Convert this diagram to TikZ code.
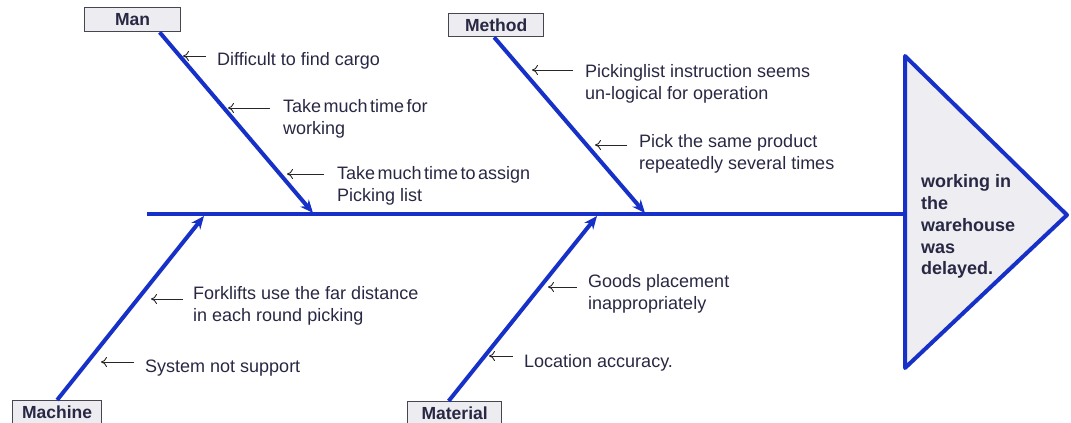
\documentclass[tikz,border=0pt]{standalone}
\usepackage{fontspec}
\setmainfont{Liberation Sans}
\usetikzlibrary{arrows.meta}
\definecolor{fbblue}{RGB}{22,48,200}
\definecolor{txt}{RGB}{40,40,68}
\definecolor{boxfill}{RGB}{236,236,241}
\definecolor{boxline}{RGB}{70,70,80}
\definecolor{trifill}{RGB}{238,238,242}
\tikzset{
  catbox/.style={draw=boxline, line width=1.3pt, fill=boxfill, text=txt, font=\fontsize{17.5}{20}\selectfont\bfseries, inner sep=0pt, anchor=north west},
  bone/.style={draw=fbblue, line width=4pt, -{Stealth[length=13pt,width=11pt]}},
  spine/.style={draw=fbblue, line width=4.5pt},
  cause/.style={text=txt, font=\fontsize{18}{22}\selectfont, align=left, anchor=north west, inner sep=0pt, execute at begin node={\strut}},
  tight/.style={execute at begin node={\strut\spaceskip=2.5pt plus 1pt}},
  ptr/.style={draw=black!85, line width=0.9pt, -{To[length=6pt,width=10pt]}},
}
\begin{document}
\begin{tikzpicture}[x=1pt,y=-1pt]
\useasboundingbox (0,0) rectangle (1071,423);
% boxes
\node[catbox, minimum width=96pt, minimum height=24pt] (man) at (84,7) {Man};
\node[catbox, minimum width=95pt, minimum height=23pt] (method) at (448,13) {Method};
\node[catbox, minimum width=89pt, minimum height=23pt] (machine) at (12,400) {Machine};
\node[catbox, minimum width=94pt, minimum height=23pt] (material) at (407,401) {Material};
% spine
\coordinate (spL) at (147,214);
\coordinate (spR) at (905,214);
\draw[spine] (spL) -- (spR);
% head triangle
\draw[draw=fbblue, line width=4pt, fill=trifill, line join=round] (905,56) -- (1067,215) -- (905,368) -- cycle;
\node[text=txt, font=\fontsize{18}{21.75}\selectfont\bfseries, align=left, anchor=north west, inner sep=0pt, execute at begin node={\strut}] (effect) at (921,174.6) {working in\\the\\warehouse\\was\\delayed.};
% branch end points
\coordinate (manE) at (313,213);
\coordinate (methodE) at (645,213);
\coordinate (machineE) at (204,216);
\coordinate (materialE) at (597,216);
\draw[bone] (man.south) ++(27,0) coordinate (manS) (manS) -- (manE);
\draw[bone] (method.south) ++(-2,0) coordinate (methodS) (methodS) -- (methodE);
\draw[bone] (machine.north) ++(0,0) coordinate (machineS) (machineS) -- (machineE);
\draw[bone] (material.north) ++(-6,0) coordinate (materialS) (materialS) -- (materialE);
% causes (north = baseline - 15.4)
\node[cause] (c1) at (217,49.6) {Difficult to find cargo};
\node[cause, tight] (c2) at (283,99.6) {Take much time for\\working};
\node[cause, tight] (c3) at (337,166.6) {Take much time to assign\\\spaceskip=0pt Picking list};
\node[cause] (c4) at (585,64.6) {Pickinglist instruction seems\\un-logical for operation};
\node[cause] (c5) at (639,134.6) {Pick the same product\\repeatedly several times};
\node[cause] (c6) at (193,286.6) {Forklifts use the far distance\\in each round picking};
\node[cause] (c7) at (145,356.6) {System not support};
\node[cause] (c8) at (588,274.6) {Goods placement\\inappropriately};
\node[cause] (c9) at (524,351.6) {Location accuracy.};
% pointer arrows
\coordinate (a1t) at (206,56); \coordinate (a1h) at (183,56);
\coordinate (a2t) at (270,108); \coordinate (a2h) at (228,108);
\coordinate (a3t) at (324,174); \coordinate (a3h) at (287,174);
\coordinate (a4t) at (573,70); \coordinate (a4h) at (532,70);
\coordinate (a5t) at (627,145); \coordinate (a5h) at (595,145);
\coordinate (a6t) at (183,299); \coordinate (a6h) at (151,299);
\coordinate (a7t) at (134,362); \coordinate (a7h) at (101,362);
\coordinate (a8t) at (577,287); \coordinate (a8h) at (548,287);
\coordinate (a9t) at (513,356); \coordinate (a9h) at (489,356);
\foreach \i in {1,...,9} {\draw[ptr] (a\i t) -- (a\i h);}
\end{tikzpicture}
\end{document}
